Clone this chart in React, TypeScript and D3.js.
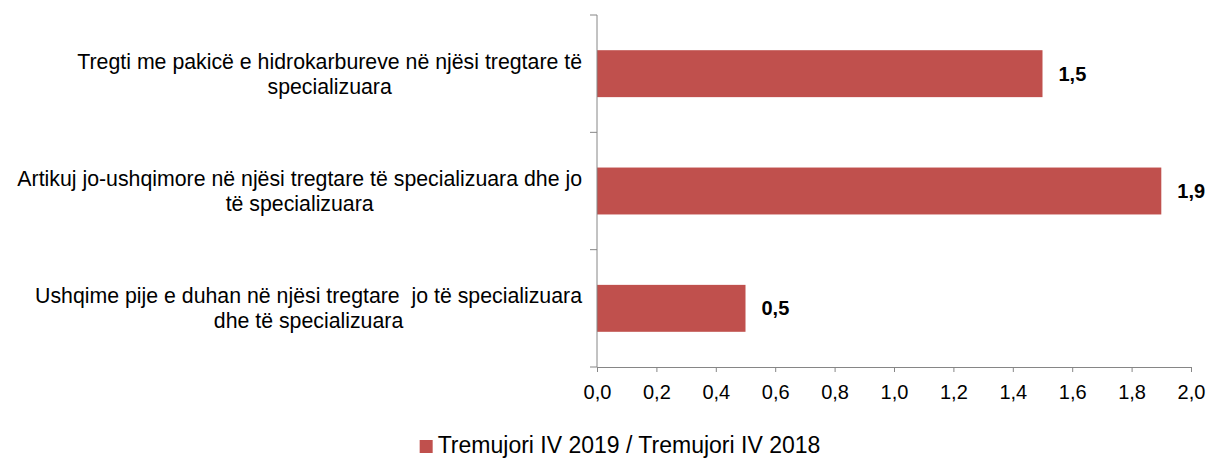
import React, { useEffect, useRef } from "react";
import * as d3 from "d3";

const categories = [
  ["Tregti me pakicë e hidrokarbureve në njësi tregtare të", "specializuara"],
  ["Artikuj jo-ushqimore në njësi tregtare të specializuara dhe jo", "të specializuara"],
  ["Ushqime pije e duhan në njësi tregtare  jo të specializuara", "dhe të specializuara"],
];
const values = [1.5, 1.9, 0.5];
const xTicks = [0, 0.2, 0.4, 0.6, 0.8, 1.0, 1.2, 1.4, 1.6, 1.8, 2.0];
const seriesName = "Tremujori IV 2019 / Tremujori IV 2018";

const W = 1208;
const H = 459;
const font = "Arial, 'Liberation Sans', sans-serif";
const barColor = "#C0504D";
const axisColor = "#868686";

export default function App() {
  const svgRef = useRef<SVGSVGElement>(null);

  useEffect(() => {
    const svg = d3.select(svgRef.current);
    svg.selectAll("*").remove();

    const m = { top: 15, right: 17, bottom: 92, left: 597 };
    const x = d3.scaleLinear().domain([0, 2]).range([m.left, W - m.right]);
    const y = d3
      .scaleBand<number>()
      .domain(d3.range(categories.length))
      .range([m.top, H - m.bottom])
      .paddingInner(0.6)
      .paddingOuter(0.3);
    const step = y.step();

    // bars
    svg
      .append("g")
      .selectAll("rect")
      .data(values)
      .join("rect")
      .attr("x", x(0))
      .attr("y", (_, i) => y(i)!)
      .attr("width", (d) => x(d) - x(0))
      .attr("height", y.bandwidth())
      .attr("fill", barColor);

    // value labels
    svg
      .append("g")
      .selectAll("text")
      .data(values)
      .join("text")
      .attr("x", (d) => x(d) + 16)
      .attr("y", (_, i) => y(i)! + y.bandwidth() / 2)
      .attr("dy", "0.35em")
      .attr("font-family", font)
      .attr("font-size", 20)
      .attr("font-weight", "bold")
      .attr("fill", "#000")
      .text((d) => d3.format(".1f")(d).replace(".", ","));

    // x axis
    const gx = svg
      .append("g")
      .attr("transform", `translate(0,${H - m.bottom})`)
      .call(
        d3
          .axisBottom(x)
          .tickValues(xTicks)
          .tickSize(5)
          .tickSizeOuter(0)
          .tickPadding(13)
          .tickFormat((d) => d3.format(".1f")(d as number).replace(".", ","))
      );
    gx.select(".domain").attr("stroke", axisColor);
    gx.selectAll("line").attr("stroke", axisColor);
    gx.selectAll("text")
      .attr("font-family", font)
      .attr("font-size", 20)
      .attr("fill", "#000");

    // y axis with ticks at category boundaries
    const gy = svg.append("g");
    gy.append("line")
      .attr("x1", x(0))
      .attr("x2", x(0))
      .attr("y1", m.top)
      .attr("y2", H - m.bottom)
      .attr("stroke", axisColor);
    gy.selectAll("line.tick")
      .data(d3.range(categories.length + 1))
      .join("line")
      .attr("class", "tick")
      .attr("x1", x(0) - 7)
      .attr("x2", x(0))
      .attr("y1", (i) => m.top + i * step)
      .attr("y2", (i) => m.top + i * step)
      .attr("stroke", axisColor);

    // category labels: centered lines, block right-aligned next to the axis
    const labelRight = 582;
    categories.forEach((lines, i) => {
      const cy = y(i)! + y.bandwidth() / 2;
      const g = svg.append("g");
      const texts = lines.map((line, j) =>
        g
          .append("text")
          .attr("y", cy + (j - (lines.length - 1) / 2) * 25)
          .attr("dy", "0.35em")
          .attr("text-anchor", "middle")
          .attr("font-family", font)
          .attr("font-size", 21.3)
          .attr("fill", "#000")
          .attr("xml:space", "preserve")
          .style("white-space", "pre")
          .text(line)
      );
      const maxW = d3.max(texts, (t) => (t.node() as SVGTextElement).getComputedTextLength()) ?? 0;
      texts.forEach((t) => t.attr("x", labelRight - maxW / 2));
    });

    // legend
    const lg = svg.append("g");
    const lt = lg
      .append("text")
      .attr("y", 453)
      .attr("font-family", font)
      .attr("font-size", 23)
      .attr("fill", "#000")
      .text(seriesName);
    const tw = (lt.node() as SVGTextElement).getComputedTextLength();
    const total = 13 + 5 + tw;
    const lx = W / 2 + 16 - total / 2;
    lg.append("rect")
      .attr("x", lx)
      .attr("y", 440)
      .attr("width", 13)
      .attr("height", 13)
      .attr("fill", barColor);
    lt.attr("x", lx + 18);
  }, []);

  return (
    <svg
      ref={svgRef}
      width={W}
      height={H}
      style={{ position: "absolute", left: 0, top: 0, background: "#fff" }}
    />
  );
}
